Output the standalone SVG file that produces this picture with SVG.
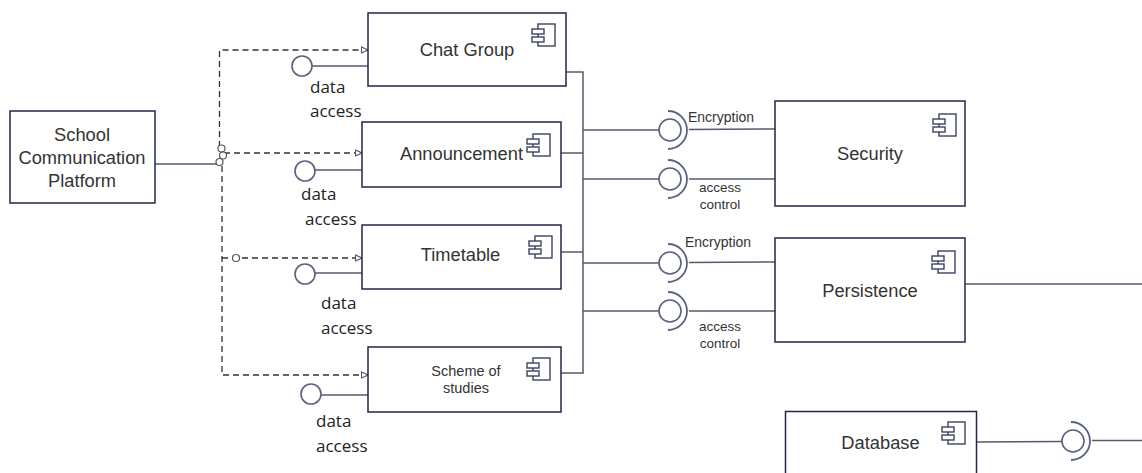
<svg xmlns="http://www.w3.org/2000/svg" xmlns:xlink="http://www.w3.org/1999/xlink" width="1142" height="473" viewBox="0 0 1142 473">
  <style>
    .box { fill: #ffffff; stroke: #22264b; stroke-width: 1.5; }
    .icon rect { fill: #ffffff; stroke: #3d4263; stroke-width: 1.4; }
    .name { font-family: "Liberation Sans", Arial, sans-serif; font-size: 18.3px; fill: #333333; text-anchor: middle; }
    .small { font-family: "Liberation Sans", Arial, sans-serif; font-size: 14.5px; fill: #333333; text-anchor: middle; }
    .iface { font-family: "Liberation Sans", Arial, sans-serif; fill: #333333; }
    .lbl { font-family: "Open Sans", "Noto Sans", sans-serif; font-size: 17px; fill: #222222; }
    .wire { fill: none; stroke: #555a6e; stroke-width: 1.5; }
    .dash { fill: none; stroke: #333333; stroke-width: 1.3; stroke-dasharray: 6 4; }
    .ball { fill: #ffffff; stroke: #5a6080; stroke-width: 1.6; }
    .socket { fill: none; stroke: #5a6080; stroke-width: 1.8; }
    .knot { fill: #ffffff; stroke: #555555; stroke-width: 1.2; }
  </style>
  <defs>
    <g id="comp-icon" class="icon">
      <rect x="6" y="0" width="17" height="22"/>
      <rect x="0" y="5" width="12" height="5"/>
      <rect x="0" y="13" width="12" height="5"/>
    </g>
    <marker id="open-tri" viewBox="0 0 8 8" refX="7.5" refY="4" markerWidth="8" markerHeight="8" markerUnits="userSpaceOnUse" orient="auto">
      <path d="M1,1 L7.5,4 L1,7 Z" fill="#ffffff" stroke="#555555" stroke-width="1.1"/>
    </marker>
  </defs>

  <!-- connectors -->
  <g id="connectors">
    <!-- platform to dependency trunk -->
    <line class="wire" x1="155" y1="164" x2="219" y2="164"/>
    <!-- dashed dependencies -->
    <path class="dash" d="M219.5,147 V50 H368" marker-end="url(#open-tri)"/>
    <path class="dash" d="M222,166 V375 H368" marker-end="url(#open-tri)"/>
    <path class="dash" d="M224,153 H362" marker-end="url(#open-tri)"/>
    <path class="dash" d="M222,258 H362" marker-end="url(#open-tri)"/>
    <circle class="knot" cx="221.5" cy="148.5" r="3.5"/>
    <circle class="knot" cx="223" cy="155.5" r="3.5"/>
    <circle class="knot" cx="219.5" cy="162" r="3.5"/>
    <circle class="knot" cx="236" cy="258" r="3.5"/>

    <!-- provided data access interfaces -->
    <line class="wire" x1="312" y1="66" x2="368" y2="66"/>
    <circle class="ball" cx="302" cy="66" r="10"/>
    <line class="wire" x1="315" y1="170" x2="362" y2="170"/>
    <circle class="ball" cx="305" cy="171" r="10"/>
    <line class="wire" x1="315" y1="273" x2="362" y2="273"/>
    <circle class="ball" cx="305" cy="274" r="10"/>
    <line class="wire" x1="321" y1="395" x2="368" y2="395"/>
    <circle class="ball" cx="311" cy="394" r="10"/>

    <!-- right bus -->
    <path class="wire" d="M566,72 H583 V374"/>
    <line class="wire" x1="561" y1="153" x2="583" y2="153"/>
    <line class="wire" x1="561" y1="252" x2="583" y2="252"/>
    <line class="wire" x1="561" y1="373" x2="583" y2="373"/>

    <!-- security interfaces -->
    <line class="wire" x1="583" y1="130" x2="659" y2="130"/>
    <circle class="ball" cx="670" cy="130" r="11"/>
    <path class="socket" d="M668,111 A19,19 0 0 1 668,149"/>
    <line class="wire" x1="689" y1="129.5" x2="775" y2="129"/>

    <line class="wire" x1="583" y1="179" x2="659" y2="179"/>
    <circle class="ball" cx="670" cy="179" r="11"/>
    <path class="socket" d="M668,160 A19,19 0 0 1 668,198"/>
    <line class="wire" x1="689" y1="179" x2="775" y2="179"/>

    <!-- persistence interfaces -->
    <line class="wire" x1="583" y1="263" x2="659" y2="263"/>
    <circle class="ball" cx="670" cy="263" r="11"/>
    <path class="socket" d="M668,244 A19,19 0 0 1 668,282"/>
    <line class="wire" x1="689" y1="262.5" x2="775" y2="262"/>

    <line class="wire" x1="583" y1="311" x2="659" y2="311"/>
    <circle class="ball" cx="670" cy="311" r="11"/>
    <path class="socket" d="M668,292 A19,19 0 0 1 668,330"/>
    <line class="wire" x1="689" y1="311" x2="775" y2="311"/>

    <!-- persistence outgoing -->
    <line class="wire" x1="965" y1="284" x2="1142" y2="284"/>

    <!-- database interface -->
    <line class="wire" x1="977" y1="442" x2="1062" y2="441.5"/>
    <circle class="ball" cx="1073" cy="441" r="11"/>
    <path class="socket" d="M1071,422 A19,19 0 0 1 1071,460"/>
    <line class="wire" x1="1092" y1="440.5" x2="1142" y2="440.5"/>
  </g>

  <!-- interface labels -->
  <g id="labels">
    <text class="lbl" x="310" y="93">data</text>
    <text class="lbl" x="310" y="117">access</text>
    <text class="lbl" x="301" y="200">data</text>
    <text class="lbl" x="305" y="225">access</text>
    <text class="lbl" x="321" y="309">data</text>
    <text class="lbl" x="321" y="334">access</text>
    <text class="lbl" x="316" y="427">data</text>
    <text class="lbl" x="316" y="452">access</text>

    <text class="iface" x="688" y="122" font-size="14">Encryption</text>
    <text class="iface" x="720" y="192" font-size="13.5" text-anchor="middle">access</text>
    <text class="iface" x="720" y="209" font-size="13.5" text-anchor="middle">control</text>
    <text class="iface" x="685" y="247" font-size="14">Encryption</text>
    <text class="iface" x="720" y="331" font-size="13.5" text-anchor="middle">access</text>
    <text class="iface" x="720" y="348" font-size="13.5" text-anchor="middle">control</text>
  </g>

  <!-- nodes -->
  <g id="school-platform">
    <rect class="box" x="10" y="111" width="145" height="92"/>
    <text class="name" x="82" y="141">School</text>
    <text class="name" x="82" y="164">Communication</text>
    <text class="name" x="82" y="187">Platform</text>
  </g>

  <g id="chat-group">
    <rect class="box" x="368" y="13" width="198" height="73"/>
    <text class="name" x="467" y="56">Chat Group</text>
    <use xlink:href="#comp-icon" x="532" y="24"/>
  </g>

  <g id="announcement">
    <rect class="box" x="362" y="122" width="199" height="65"/>
    <text class="name" x="461.5" y="160">Announcement</text>
    <use xlink:href="#comp-icon" x="527" y="134"/>
  </g>

  <g id="timetable">
    <rect class="box" x="362" y="225" width="199" height="64"/>
    <text class="name" x="460.5" y="261">Timetable</text>
    <use xlink:href="#comp-icon" x="529" y="236"/>
  </g>

  <g id="scheme-of-studies">
    <rect class="box" x="368" y="347" width="193" height="65"/>
    <text class="small" x="466" y="376">Scheme of</text>
    <text class="small" x="466" y="393">studies</text>
    <use xlink:href="#comp-icon" x="527" y="358"/>
  </g>

  <g id="security">
    <rect class="box" x="775" y="101" width="190" height="105"/>
    <text class="name" x="870" y="160">Security</text>
    <use xlink:href="#comp-icon" x="933" y="114"/>
  </g>

  <g id="persistence">
    <rect class="box" x="775" y="238" width="190" height="104"/>
    <text class="name" x="870" y="297">Persistence</text>
    <use xlink:href="#comp-icon" x="932" y="251"/>
  </g>

  <g id="database">
    <rect class="box" x="785.5" y="411.5" width="191" height="70"/>
    <text class="name" x="880.5" y="449">Database</text>
    <use xlink:href="#comp-icon" x="942" y="422"/>
  </g>
</svg>
